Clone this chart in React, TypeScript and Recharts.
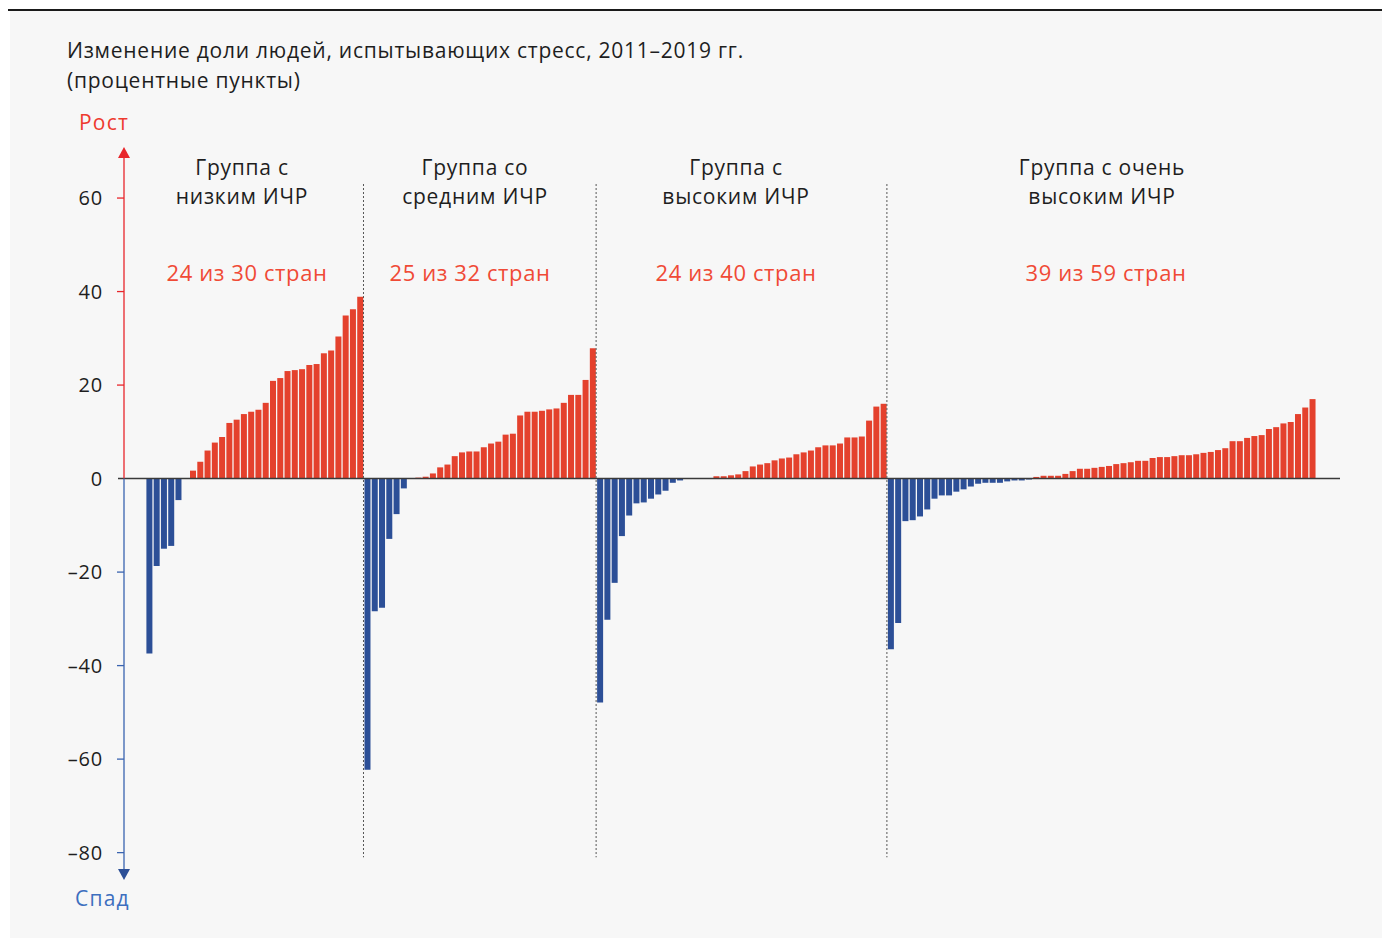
import React from "react";
import { BarChart, Bar, XAxis, YAxis, Cell, ReferenceLine } from "recharts";

// Изменение доли людей, испытывающих стресс (п.п.), страны отсортированы внутри группы
const lowHdi = [
  -37.4, -18.7, -15.0, -14.4, -4.6, 0, 1.7, 3.6, 6.0, 7.7, 8.9, 11.9, 12.6, 13.8, 14.3,
  14.7, 16.2, 20.9, 21.5, 23.0, 23.2, 23.4, 24.3, 24.5, 26.8, 27.4, 30.4, 34.9, 36.2, 38.9,
];
const mediumHdi = [
  -62.3, -28.4, -27.6, -12.9, -7.6, -2.1, 0, 0.2, 0.4, 1.1, 2.4, 3.0, 4.8, 5.6, 5.8, 5.8,
  6.7, 7.5, 7.9, 9.4, 9.6, 13.5, 14.3, 14.3, 14.5, 14.8, 15.0, 16.2, 17.9, 17.9, 21.1, 27.9,
];
const highHdi = [
  -47.9, -30.2, -22.3, -12.3, -7.9, -5.3, -5.1, -4.3, -3.4, -2.6, -0.9, -0.4, 0, 0, 0, 0,
  0.5, 0.5, 0.7, 0.9, 1.6, 2.6, 3.0, 3.3, 3.9, 4.3, 4.5, 5.2, 5.6, 6.0, 6.7, 7.1, 7.1, 7.5,
  8.8, 8.8, 9.0, 12.4, 15.4, 16.0,
];
const veryHighHdi = [
  -36.5, -30.9, -9.1, -8.9, -8.1, -6.6, -4.3, -3.6, -3.6, -2.8, -2.3, -1.7, -1.1, -0.9, -0.9,
  -0.9, -0.6, -0.4, -0.4, -0.2, 0.35, 0.6, 0.6, 0.6, 1.0, 1.6, 2.1, 2.1, 2.3, 2.5, 2.7, 3.1,
  3.3, 3.5, 3.8, 3.8, 4.4, 4.6, 4.6, 4.8, 5.0, 5.0, 5.2, 5.5, 5.7, 6.1, 6.5, 8.0, 8.0, 8.7,
  9.1, 9.3, 10.6, 11.0, 11.8, 12.1, 13.8, 15.2, 17.0,
];

const groupNames = ["Группа с\nнизким ИЧР", "Группа со\nсредним ИЧР", "Группа с\nвысоким ИЧР", "Группа с очень\nвысоким ИЧР"];
const groupCounts = ["24 из 30 стран", "25 из 32 стран", "24 из 40 стран", "39 из 59 стран"];
const yTicks = [60, 40, 20, 0, -20, -40, -60, -80];

const RED = "#e4412d";
const BLUE = "#2c4f97";
const AXIS_RED = "#e8262b";
const AXIS_BLUE = "#3a64b0";
const FONT = "'Open Sans', Lato, sans-serif";

const groups = [lowHdi, mediumHdi, highHdi, veryHighHdi];
const data = groups.flatMap((g, gi) =>
  g.map((v, i) => ({ id: `g${gi}-${i}`, value: v }))
);
const groupStarts = groups.map((_, gi) => `g${gi}-0`);

const W = 1382;
const H = 938;
const PLOT_TOP = 151.3;
const PLOT_BOTTOM = 876.0;
const AXIS_X = 124;
const ARROW_TOP = 147;
const ARROW_BOTTOM = 880;

const YTick = (props: any) => {
  const { y, payload } = props;
  const v = payload.value as number;
  const neg = v < 0;
  const label = neg ? `–${Math.abs(v)}` : `${v}`;
  return (
    <g>
      {v === 0 && (
        <g>
          <line x1={AXIS_X} x2={AXIS_X} y1={y} y2={ARROW_TOP + 8} stroke={AXIS_RED} strokeWidth={1.3} />
          <polygon points={`${AXIS_X - 6},${ARROW_TOP + 11} ${AXIS_X + 6},${ARROW_TOP + 11} ${AXIS_X},${ARROW_TOP}`} fill={AXIS_RED} />
          <line x1={AXIS_X} x2={AXIS_X} y1={y} y2={ARROW_BOTTOM - 8} stroke={AXIS_BLUE} strokeWidth={1.3} />
          <polygon points={`${AXIS_X - 6},${ARROW_BOTTOM - 11} ${AXIS_X + 6},${ARROW_BOTTOM - 11} ${AXIS_X},${ARROW_BOTTOM}`} fill={BLUE} />
        </g>
      )}
      {v !== 0 && (
        <line x1={AXIS_X - 7} x2={AXIS_X} y1={y} y2={y} stroke={neg ? AXIS_BLUE : AXIS_RED} strokeWidth={1.3} />
      )}
      <text x={103} y={y} dy="0.36em" textAnchor="end" fontSize={20} letterSpacing={0.8} fill="#1e1e1e" fontFamily={FONT}>
        {label}
      </text>
    </g>
  );
};

const labelCenters = [242, 475, 736, 1102];
const countCenters = [247, 470, 736, 1106];

export default function App() {
  return (
    <div style={{ position: "absolute", left: 0, top: 0, width: W, height: H, background: "#fff", overflow: "hidden", fontFamily: FONT }}>
      <div style={{ position: "absolute", left: 10, top: 10, width: W - 10, height: H - 10, background: "#f7f7f7" }} />
      <div style={{ position: "absolute", left: 8, top: 9, width: W - 8, height: 2, background: "#1a1a1a" }} />

      <div style={{ position: "absolute", left: 67, top: 35, fontSize: 21, letterSpacing: 0.75, lineHeight: "30px", color: "#1e1e1e", whiteSpace: "nowrap" }}>
        Изменение доли людей, испытывающих стресс, 2011–2019 гг.
        <br />
        (процентные пункты)
      </div>
      <div style={{ position: "absolute", left: 79, top: 107, fontSize: 21, letterSpacing: 1.2, lineHeight: "30px", color: "#ee3a2e" }}>Рост</div>
      <div style={{ position: "absolute", left: 75, top: 883, fontSize: 21, letterSpacing: 1.2, lineHeight: "30px", color: "#3d6fbf" }}>Спад</div>

      <div style={{ position: "absolute", left: 0, top: 0 }}>
        <BarChart width={W} height={H} data={data} margin={{ top: PLOT_TOP, right: 42, bottom: H - PLOT_BOTTOM, left: 58 }}>
          <XAxis dataKey="id" type="category" hide padding={{ left: 27.4, right: 24.2 }} />
          <YAxis
            type="number"
            width={60}
            domain={[-85, 70]}
            ticks={yTicks}
            interval={0}
            axisLine={false}
            tickLine={false}
            tick={<YTick />}
          />
          <Bar dataKey="value" barSize={6} isAnimationActive={false}>
            {data.map((d) => (
              <Cell key={d.id} fill={d.value < 0 ? BLUE : RED} />
            ))}
          </Bar>
          <ReferenceLine y={0} stroke="#3a3a3a" strokeWidth={1.5} />
          {groupStarts.slice(1).map((id) => (
            <ReferenceLine
              key={id}
              segment={[{ x: id, y: 63 }, { x: id, y: -81 }]}
              position="start"
              stroke="#555"
              strokeDasharray="2 2"
              strokeWidth={1}
            />
          ))}
        </BarChart>
      </div>

      {groupNames.map((name, i) => (
        <div
          key={name}
          style={{ position: "absolute", left: labelCenters[i] - 150, width: 300, top: 153, textAlign: "center", fontSize: 21, letterSpacing: 0.75, lineHeight: "29px", color: "#1e1e1e", whiteSpace: "pre-line" }}
        >
          {name}
        </div>
      ))}
      {groupCounts.map((c, i) => (
        <div
          key={c}
          style={{ position: "absolute", left: countCenters[i] - 150, width: 300, top: 257, textAlign: "center", fontSize: 22, letterSpacing: 0.6, lineHeight: "30px", color: "#f04a36" }}
        >
          {c}
        </div>
      ))}
    </div>
  );
}
